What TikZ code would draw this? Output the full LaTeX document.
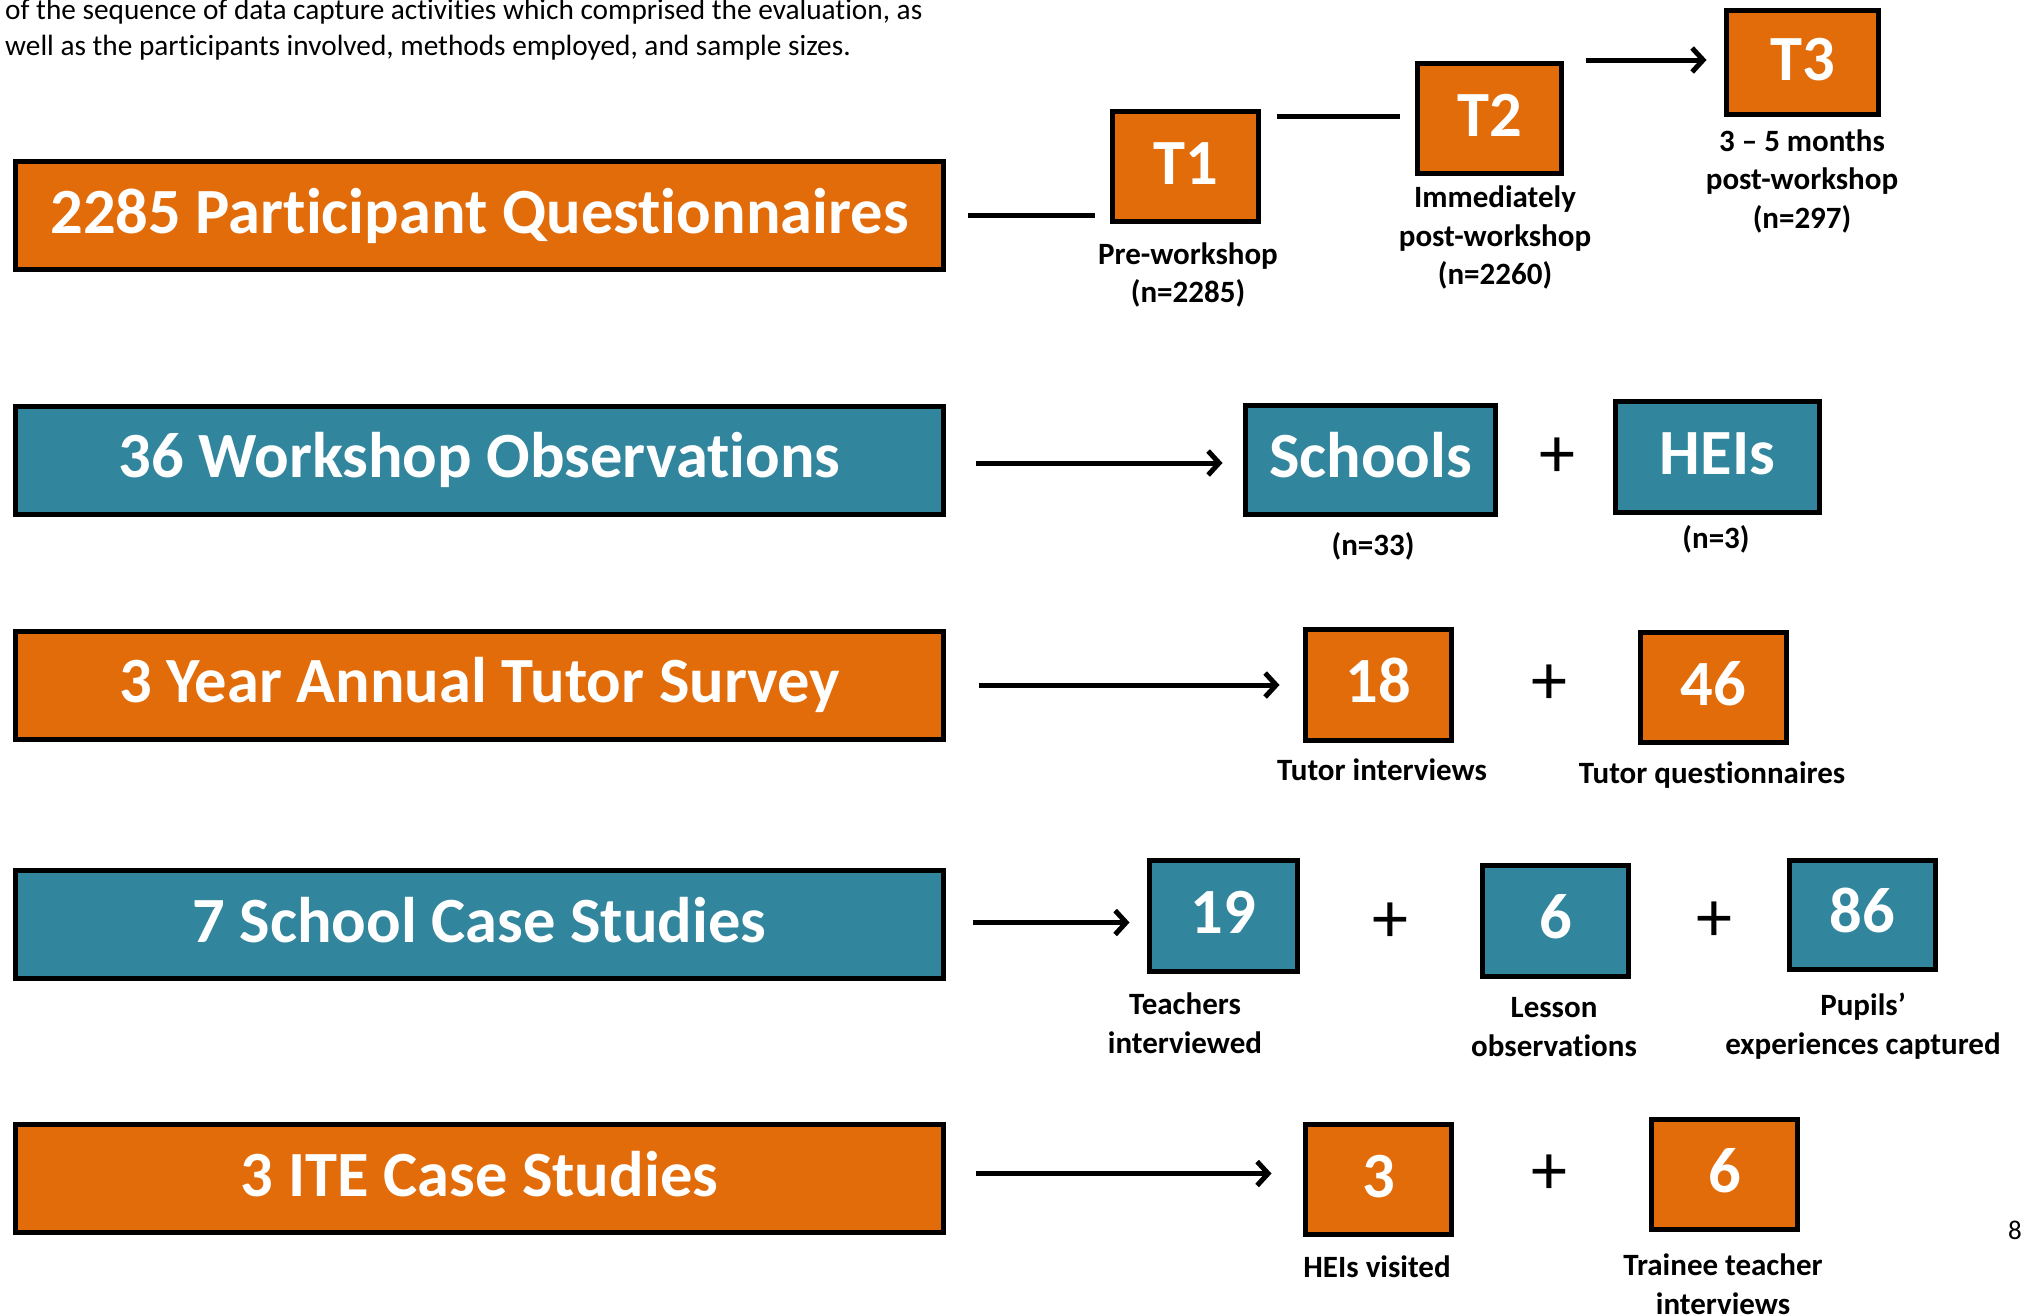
\documentclass[tikz,border=0pt]{standalone}
\usepackage{fontspec}
\setmainfont[Ligatures={NoCommon,NoRequired,NoContextual,NoDiscretionary}]{Carlito}
\usetikzlibrary{arrows.meta}
\definecolor{orangeA}{HTML}{E36C0A}
\definecolor{tealA}{HTML}{31859C}
\begin{document}
\begin{tikzpicture}[x=1pt,y=-1pt,
  boxbase/.style={draw=black, line width=5pt, inner sep=0pt, text=white,
    font=\fontsize{64.5}{77}\selectfont\bfseries, text height=41.5pt, text depth=6pt},
  bigbox/.style={boxbase, minimum width=928pt, minimum height=108pt},
  obox/.style={boxbase, fill=orangeA},
  tbox/.style={boxbase, fill=tealA},
  lbl/.style={inner sep=0pt, align=center, font=\fontsize{31}{38.5}\selectfont\bfseries},
  plus/.style={inner sep=0pt, font=\fontsize{72}{80}\selectfont},
  conn/.style={draw=black, line width=5pt},
  arr/.style={conn, -{Straight Barb[length=11pt,width=24pt]}}
]
\useasboundingbox (0,0) rectangle (2029,1315);

% intro text
\node[anchor=west, align=left, inner sep=0pt, font=\fontsize{29.3}{35.5}\selectfont] (intro) at (5,29.5)
  {of the sequence of data capture activities which comprised the evaluation, as\\
   well as the participants involved, methods employed, and sample sizes.};

% main boxes
\node[bigbox, fill=orangeA] (b1) at (479.5,215.5) {2285 Participant Questionnaires};
\node[bigbox, fill=tealA]   (b2) at (479.5,460)   {36 Workshop Observations};
\node[bigbox, fill=orangeA] (b3) at (479.5,685)   {3 Year Annual Tutor Survey};
\node[bigbox, fill=tealA]   (b4) at (479.5,924.5) {7 School Case Studies};
\node[bigbox, fill=orangeA] (b5) at (479.5,1178.5) {3 ITE Case Studies};

% row 1
\node[obox, minimum width=146pt, minimum height=110pt] (t1) at (1185.5,166.5) {T1};
\node[obox, minimum width=144pt, minimum height=110pt] (t2) at (1489.5,118.5) {T2};
\node[obox, minimum width=152pt, minimum height=104pt] (t3) at (1802.5,62.5) {T3};
\node[lbl] (lt1) at (1188,275) {Pre-workshop\\(n=2285)};
\node[lbl] (lt2) at (1495,237.5) {Immediately\\post-workshop\\(n=2260)};
\node[lbl] (lt3) at (1802,181) {3 – 5 months\\post-workshop\\(n=297)};
\draw[conn, shorten <=22pt, shorten >=15pt] (b1.east) -- (b1.east -| t1.west);
\draw[conn, shorten <=15.5pt, shorten >=15.5pt] ([yshift=2.5pt]t1.east |- t2.west) -- ([yshift=2.5pt]t2.west);
\draw[arr, shorten <=21.5pt, shorten >=17.5pt] ([yshift=2.5pt]t2.east |- t3.west) -- ([yshift=2.5pt]t3.west);

% row 2
\node[tbox, minimum width=250pt, minimum height=109pt] (sch) at (1370.5,460) {Schools};
\node[tbox, minimum width=204pt, minimum height=111pt] (hei) at (1717.5,457) {HEIs};
\node[plus] (p1) at (1557,458) {+};
\node[lbl] (lsch) at (1373,546) {(n=33)};
\node[lbl] (lhei) at (1716,539) {(n=3)};
\draw[arr, shorten <=29.5pt, shorten >=20.5pt] ([yshift=-3pt]b2.east) -- ([yshift=-3pt]b2.east -| sch.west);

% row 3
\node[obox, minimum width=146pt, minimum height=111pt] (n18) at (1378.5,685) {18};
\node[obox, minimum width=146pt, minimum height=110pt] (n46) at (1713.5,687.5) {46};
\node[plus] (p2) at (1549,685) {+};
\node[lbl] (l18) at (1382,770) {Tutor interviews};
\node[lbl] (l46) at (1712,775) {Tutor questionnaires};
\draw[arr, shorten <=32.5pt, shorten >=23.5pt] (b3.east) -- (b3.east -| n18.west);

% row 4
\node[tbox, minimum width=148pt, minimum height=111pt] (n19) at (1223.5,916) {19};
\node[tbox, minimum width=146pt, minimum height=111pt] (n6a) at (1555.5,921) {6};
\node[tbox, minimum width=146pt, minimum height=109pt] (n86) at (1862.5,915) {86};
\node[plus] (p3) at (1390,923) {+};
\node[plus] (p4) at (1714,922) {+};
\node[lbl] (l19) at (1185,1023) {Teachers\\interviewed};
\node[lbl] (l6a) at (1554,1027) {Lesson\\observations};
\node[lbl] (l86) at (1863,1026) {Pupils’\\experiences captured};
\draw[arr, shorten <=26.5pt, shorten >=17.5pt] ([yshift=2pt]b4.east) -- ([yshift=2pt]b4.east -| n19.west);

% row 5
\node[obox, minimum width=146pt, minimum height=110pt] (n3) at (1378.5,1179.5) {3};
\node[obox, minimum width=146pt, minimum height=110pt] (n6b) at (1724.5,1174.5) {6};
\node[plus] (p5) at (1549,1175) {+};
\node[lbl] (l3) at (1377,1267) {HEIs visited};
\node[lbl] (l6b) at (1723,1284) {Trainee teacher\\interviews};
\draw[arr, shorten <=29.5pt, shorten >=31.5pt] ([yshift=5pt]b5.east) -- ([yshift=5pt]b5.east -| n3.west);

% page number
\node[inner sep=0pt, font=\fontsize{27}{32}\selectfont] (pg) at (2015,1230) {8};
\end{tikzpicture}
\end{document}
